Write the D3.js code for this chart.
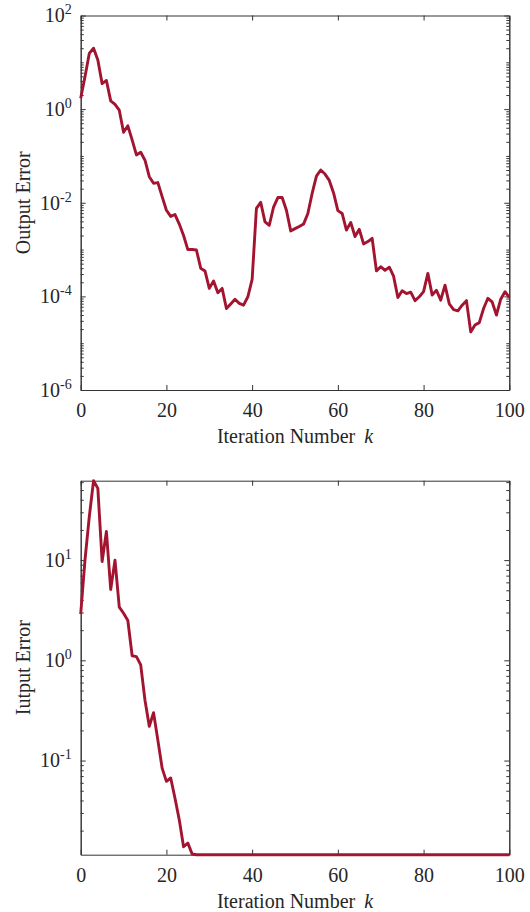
<!DOCTYPE html>
<html>
<head>
<meta charset="utf-8">
<script src="https://cdn.jsdelivr.net/npm/d3@7/dist/d3.min.js"></script>
<style>
  body { margin: 0; background: #fff; }
  svg { display: block; }
  text { font-family: "Liberation Serif", "Times New Roman", serif; fill: #262626; }
</style>
</head>
<body>
<svg id="chart" width="530" height="912"></svg>
<script>
// ----------

const LINE_COLOR = "#A2142F";
const AXIS_COLOR = "#333";

// iteration number k = 0..100
const iterations = d3.range(0, 101);

// output error
const outputError = [
  1.7, 4.9, 15.5, 20, 11.2, 3.5, 4.1, 1.5, 1.26, 0.95,
  0.32, 0.44, 0.22, 0.105, 0.12, 0.081, 0.036, 0.026, 0.027, 0.0135,
  0.0069, 0.0051, 0.0056, 0.0035, 0.0020, 0.0010, 0.0010, 0.00098, 0.0004, 0.00035,
  0.000148, 0.000214, 0.00012, 0.000148, 0.000055, 0.000069, 0.000087, 0.000071, 0.000065, 0.000098,
  0.00023, 0.0076, 0.0102, 0.0039, 0.0033, 0.0081, 0.0129, 0.0129, 0.0069, 0.0025,
  0.0028, 0.0031, 0.0035, 0.0059, 0.0158, 0.037, 0.050, 0.041, 0.030, 0.0162,
  0.0068, 0.0059, 0.0026, 0.0038, 0.0019, 0.0027, 0.00132, 0.00148, 0.00174, 0.00035,
  0.00043, 0.00036, 0.00042, 0.00027, 0.000095, 0.000132, 0.000115, 0.000123, 0.000081, 0.000098,
  0.000126, 0.00031, 0.000107, 0.000135, 0.000083, 0.000174, 0.000069, 0.000052, 0.000049, 0.000065,
  0.000081, 0.0000174, 0.0000245, 0.0000275, 0.000055, 0.000091, 0.000076, 0.00004, 0.000087, 0.000126,
  0.000095
];

// input error (flat after k = 26)
const inputErrorHead = [
  2.9, 10, 27, 62, 52, 9.7, 19.3, 5.1, 10, 3.4,
  2.95, 2.5, 1.11, 1.09, 0.90, 0.40, 0.22, 0.30, 0.16, 0.084,
  0.062, 0.067, 0.042, 0.0256, 0.0138, 0.015, 0.0117
];
const inputErrorFloor = 0.0115;
const inputError = iterations.map(k => k < inputErrorHead.length ? inputErrorHead[k] : inputErrorFloor);

const xTicks = [0, 20, 40, 60, 80, 100];
const topMajorTicks = [1e-6, 1e-4, 1e-2, 1e0, 1e2];
const bottomMajorTicks = [1e-1, 1e0, 1e1];

// ----------

const left = 80.7;
const right = 509.3;

const svg = d3.select("#chart");

function minorTicks(domain, majors) {
  let result = [];
  let lo = Math.floor(Math.log10(domain[0]));
  let hi = Math.ceil(Math.log10(domain[1]));
  for (let e = lo; e <= hi; e++) {
    for (let m = 1; m <= 9; m++) {
      let v = m * Math.pow(10, e);
      if (v < domain[0] * 0.999 || v > domain[1] * 1.001) continue;
      if (majors.some(t => Math.abs(t - v) / v < 1e-9)) continue;
      result.push(v);
    }
  }
  return result;
}

function powerLabels(sel) {
  sel.selectAll(".tick text").each(function (d) {
    let e = Math.round(Math.log10(d));
    let t = d3.select(this);
    t.text("10");
    t.append("tspan").attr("dy", -8).attr("font-size", 14).text(e);
  });
}

function styleAxis(g) {
  g.selectAll("path").attr("stroke", AXIS_COLOR).attr("stroke-width", 1);
  g.selectAll("line").attr("stroke", AXIS_COLOR).attr("stroke-width", 1);
  g.selectAll("text").attr("fill", "#262626").attr("font-size", 20)
    .attr("font-family", "'Liberation Serif', 'Times New Roman', serif");
}

function drawPanel(top, bottom, yDomain, majors, values, yLabel) {
  let x = d3.scaleLinear().domain([0, 100]).range([left, right]);
  let y = d3.scaleLog().domain(yDomain).range([bottom, top]);
  let minors = minorTicks(yDomain, majors);

  let g = svg.append("g");

  // box: bottom / top
  g.append("g").attr("transform", "translate(0," + bottom + ")")
    .call(d3.axisBottom(x).tickValues(xTicks).tickSizeInner(-5).tickSizeOuter(0).tickPadding(13).tickFormat(d3.format("d")))
    .call(styleAxis);
  g.append("g").attr("transform", "translate(0," + top + ")")
    .call(d3.axisTop(x).tickValues(xTicks).tickSizeInner(-5).tickSizeOuter(0).tickFormat(""))
    .call(styleAxis);

  // left / right, major and minor ticks
  g.append("g").attr("transform", "translate(" + left + ",0)")
    .call(d3.axisLeft(y).tickValues(minors).tickSizeInner(-3).tickSizeOuter(0).tickFormat(""))
    .call(styleAxis);
  g.append("g").attr("transform", "translate(" + left + ",0)")
    .call(d3.axisLeft(y).tickValues(majors).tickSizeInner(-5).tickSizeOuter(0).tickPadding(9))
    .call(styleAxis)
    .call(powerLabels);
  g.append("g").attr("transform", "translate(" + right + ",0)")
    .call(d3.axisRight(y).tickValues(minors).tickSizeInner(-3).tickSizeOuter(0).tickFormat(""))
    .call(styleAxis);
  g.append("g").attr("transform", "translate(" + right + ",0)")
    .call(d3.axisRight(y).tickValues(majors).tickSizeInner(-5).tickSizeOuter(0).tickFormat(""))
    .call(styleAxis);

  let line = d3.line()
    .x((d, i) => x(iterations[i]))
    .y(d => y(d));

  g.append("path")
    .datum(values)
    .attr("fill", "none")
    .attr("stroke", LINE_COLOR)
    .attr("stroke-width", 2.9)
    .attr("stroke-linejoin", "round")
    .attr("d", line);

  // axis titles
  let xl = g.append("text")
    .attr("x", (left + right) / 2)
    .attr("y", bottom + 53)
    .attr("text-anchor", "middle")
    .attr("font-size", 20)
    .text("Iteration Number");
  xl.append("tspan").attr("dx", 9).attr("font-style", "italic").text("k");

  g.append("text")
    .attr("transform", "translate(30," + (top + bottom) / 2 + ") rotate(-90)")
    .attr("text-anchor", "middle")
    .attr("font-size", 20)
    .text(yLabel);
}

drawPanel(15.5, 390, [1e-6, 1e2], topMajorTicks, outputError, "Output Error");
drawPanel(480.7, 854.7, d3.extent(inputError), bottomMajorTicks, inputError, "Iutput Error");
</script>
</body>
</html>
